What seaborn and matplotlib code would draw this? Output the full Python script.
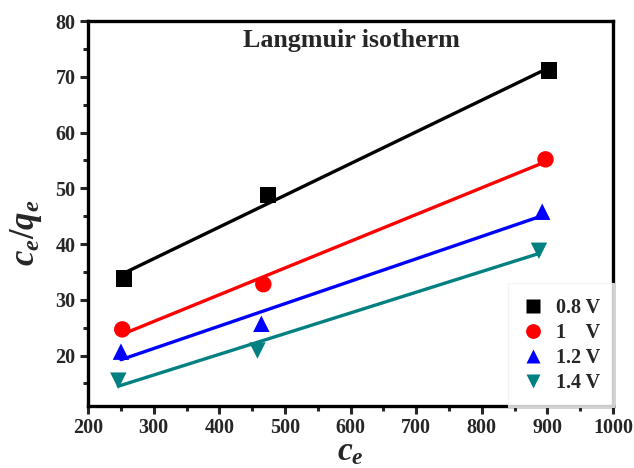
import numpy as np
import pandas as pd
import matplotlib
matplotlib.use("Agg")
import matplotlib.pyplot as plt
import seaborn as sns

# Langmuir isotherm data: equilibrium concentration and c_e/q_e per applied voltage
labels = ["0.8 V", "1    V", "1.2 V", "1.4 V"]
ce_08 = [255, 474, 902]
cq_08 = [33.8, 48.8, 71.1]
ce_10 = [252, 467, 897]
cq_10 = [24.7, 32.8, 55.2]
ce_12 = [250, 464, 892]
cq_12 = [20.7, 25.7, 45.8]
ce_14 = [246, 458, 887]
cq_14 = [15.5, 20.9, 38.8]

colors = ["#000000", "#ff0000", "#0000ff", "#008080"]
markers = ["s", "o", "^", "v"]

xs = [ce_08, ce_10, ce_12, ce_14]
ys = [cq_08, cq_10, cq_12, cq_14]
df = pd.concat(
    [pd.DataFrame({"ce": x, "cq": y, "series": lab}) for x, y, lab in zip(xs, ys, labels)],
    ignore_index=True,
)

sns.set_style("ticks")
plt.rcParams["font.family"] = ["Liberation Serif", "DejaVu Serif"]
plt.rcParams["font.weight"] = "bold"
plt.rcParams["mathtext.fontset"] = "custom"
plt.rcParams["mathtext.rm"] = "Liberation Serif:bold"
plt.rcParams["mathtext.it"] = "Liberation Serif:italic:bold"

fig, ax = plt.subplots(figsize=(6.34, 4.68), dpi=100)
fig.subplots_adjust(left=0.139, right=0.967, top=0.955, bottom=0.133)

# linear fits
for x, y, c in zip(xs, ys, colors):
    sns.regplot(x=x, y=y, ax=ax, scatter=False, ci=None, truncate=True,
                color=c, line_kws={"linewidth": 2.4})

sns.scatterplot(data=df, x="ce", y="cq", hue="series", style="series",
                palette=colors, markers=markers, s=140, edgecolor="none",
                ax=ax, zorder=5)

ax.set_xlim(200, 1000)
ax.set_ylim(11, 80)
ax.set_xticks(np.arange(200, 1001, 100))
ax.set_yticks(np.arange(20, 81, 10))
ax.set_xticks(np.arange(250, 1000, 100), minor=True)
ax.set_yticks(np.arange(15, 80, 10), minor=True)
ax.tick_params(axis="both", which="major", direction="out", length=6, width=2.2,
               labelsize=14.5, top=False, right=False, pad=3)
ax.tick_params(axis="both", which="minor", direction="out", length=3.5, width=2.2,
               top=False, right=False)
for sp in ax.spines.values():
    sp.set_visible(True)
    sp.set_linewidth(2.4)
    sp.set_color("black")

ax.set_xlabel("$c_e$", fontsize=24)
ax.xaxis.set_label_coords(0.5, -0.08, transform=ax.transAxes)
ax.xaxis.label.set_va("top")
ax.set_ylabel("$c_e/q_e$", fontsize=25)
ax.yaxis.set_label_coords(-0.085, 0.45, transform=ax.transAxes)

ax.text(0.502, 0.95, "Langmuir isotherm", transform=ax.transAxes,
        ha="center", va="center", fontsize=18.7, fontweight="bold")

handles, labs = ax.get_legend_handles_labels()
leg = ax.legend(handles, labs, loc="lower right", frameon=True,
                prop={"weight": "bold", "size": 14.5}, handletextpad=0.55,
                labelspacing=0.25, borderpad=0.4, markerscale=0.9,
                bbox_to_anchor=(0.99, 0.013), handlelength=1.1,
                borderaxespad=0.0)
leg.get_frame().set_edgecolor("#f0f0f0")
leg.get_frame().set_linewidth(0.8)
leg.get_frame().set_boxstyle("square")

for lab in ax.get_xticklabels() + ax.get_yticklabels():
    lab.set_fontweight("bold")

fig.savefig("out.png", dpi=100)
